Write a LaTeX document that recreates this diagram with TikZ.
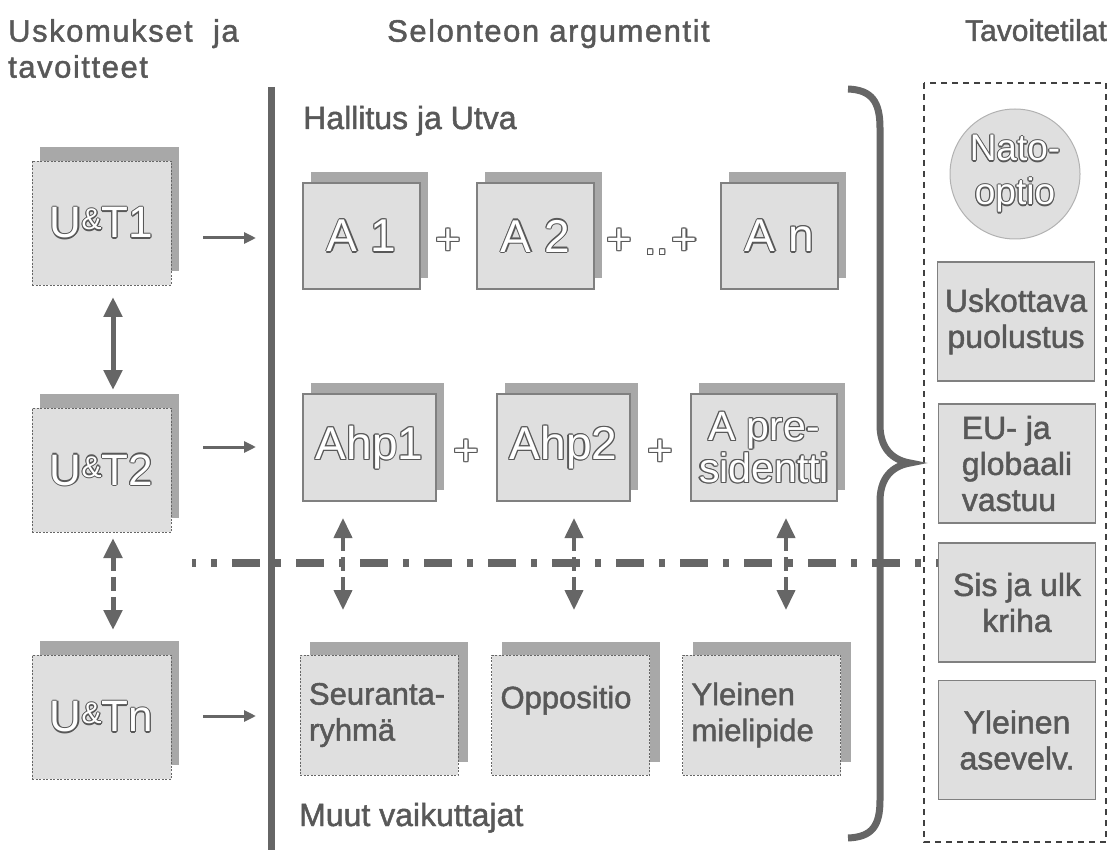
\documentclass[tikz,border=0pt]{standalone}
\usepackage{fontspec}
\setmainfont{Liberation Sans}
\newfontfamily\plainfont{Liberation Sans}[FakeBold=1.5]
\usetikzlibrary{arrows.meta, shadows}

\definecolor{linegray}{HTML}{666666}
\definecolor{textgray}{HTML}{585858}
\definecolor{boxfill}{HTML}{DFDFDF}
\definecolor{shadowgray}{HTML}{A8A8A8}
\definecolor{edgegray}{HTML}{808080}

\newcommand\hollow[1]{{\setbox0\hbox{#1}%
  \color{textgray}%
  \rlap{\kern1.2pt\copy0}\rlap{\kern-1.2pt\copy0}%
  \rlap{\raise1.2pt\copy0}\rlap{\lower1.2pt\copy0}%
  \rlap{\kern.85pt\raise.85pt\copy0}\rlap{\kern-.85pt\raise.85pt\copy0}%
  \rlap{\kern.85pt\lower.85pt\copy0}\rlap{\kern-.85pt\lower.85pt\copy0}%
  \color{white}\copy0}}

\begin{document}
\begin{tikzpicture}
[x=1pt, y=-1pt, title/.style={anchor=north west, inner sep=0pt, text=textgray, align=left, font=\plainfont\fontsize{31}{36}\selectfont\addfontfeature{LetterSpace=5}}, label/.style={anchor=base west, inner sep=0pt, text=textgray, font=\plainfont\fontsize{32}{36}\selectfont}, utbox/.style={fill=boxfill, draw=black!60, line width=0.9pt, dash pattern=on 2pt off 1.5pt, minimum width=139pt, minimum height=124pt, inner sep=0pt, general shadow={fill=shadowgray, shadow xshift=8pt, shadow yshift=14pt}, font=\fontsize{44}{50}\selectfont}, argbox/.style={fill=boxfill, draw=edgegray, line width=1.5pt, minimum height=107pt, inner sep=0pt, general shadow={fill=shadowgray, shadow xshift=8pt, shadow yshift=11pt}, font=\fontsize{46}{50}\selectfont}, otherbox/.style={fill=boxfill, draw=black!60, line width=0.9pt, dash pattern=on 2pt off 1.5pt, minimum height=120pt, text width=140pt, inner xsep=9pt, inner ysep=0pt, align=left, text=textgray, font=\plainfont\fontsize{31}{36}\selectfont, general shadow={fill=shadowgray, shadow xshift=10pt, shadow yshift=13pt}}, goalbox/.style={fill=boxfill, draw=edgegray, line width=1.3pt, minimum width=157pt, minimum height=119pt, inner sep=0pt, text=textgray, font=\plainfont\fontsize{32}{36}\selectfont}, plus/.style={inner sep=0pt, font=\fontsize{44}{50}\selectfont}, into/.style={-{Triangle[length=12pt, width=11pt]}, line width=3pt, linegray}, both ways/.style={{Triangle[length=20pt, width=18pt]}-{Triangle[length=20pt, width=18pt]}, line width=5pt, linegray}, both ways dashed/.style={both ways, dash pattern=on 14pt off 6pt}]
\useasboundingbox (0,0) rectangle (1111,850);
    \coordinate (r1) at (203,238);
    \coordinate (r1') at (256,238);
    \coordinate (r2) at (203,447);
    \coordinate (r2') at (256,447);
    \coordinate (r3) at (203,716);
    \coordinate (r3') at (256,716);
    \coordinate (v1) at (113,297);
    \coordinate (v1') at (113,390);
    \coordinate (v2) at (113,538);
    \coordinate (v2') at (113,630);
    \coordinate (d1) at (343,518);
    \coordinate (d1') at (343,610);
    \coordinate (d2) at (574,518);
    \coordinate (d2') at (574,610);
    \coordinate (d3) at (786,518);
    \coordinate (d3') at (786,610);
    \node[title] (uskomukset) at (8,19) {Uskomukset\ \ ja\\tavoitteet};
    \node[title] (selonteon) at (387,19) {Selonteon argumentit};
    \node[title, anchor=north east, font=\plainfont\fontsize{30}{36}\selectfont] (tavoitetilat) at (1107,19) {Tavoitetilat};
    \draw[linegray, line width=7pt] (271,87) -- (271,850);
    \draw[linegray, line width=8pt, dash pattern=on 28pt off 15pt on 6pt off 15pt, dash phase=24pt] (192,563) -- (940,563);
    \draw[black!75, line width=1.8pt, dash pattern=on 6pt off 5pt] (924,83) rectangle (1106,842);
    \node[label] (hallitus) at (303,129) {Hallitus ja Utva};
    \node[label] (muut) at (299,826) {Muut vaikuttajat};
    \node[utbox] (ut1) at (101.5,223) {\hollow{U\raisebox{8pt}{\fontsize{30}{30}\selectfont\&}T1}};
    \node[utbox] (ut2) at (101.5,470) {\hollow{U\raisebox{8pt}{\fontsize{30}{30}\selectfont\&}T2}};
    \node[utbox] (utn) at (101.5,717) {\hollow{U\raisebox{8pt}{\fontsize{30}{30}\selectfont\&}Tn}};
    \node[argbox, minimum width=117pt, minimum height=106pt] (a1) at (361.5,236) {\hollow{A 1}};
    \node[argbox, minimum width=117pt, minimum height=106pt] (a2) at (535.5,236) {\hollow{A 2}};
    \node[argbox, minimum width=117pt, minimum height=106pt] (an) at (779.5,236) {\hollow{A n}};
    \node[plus] (plus1) at (448.5,242) {\hollow{+}};
    \node[plus] (plus2) at (652,242) {\hollow{+ ..\kern3pt+}};
    \node[argbox, minimum width=133pt] (ahp1) at (369.5,447.5) {\hollow{Ahp1}};
    \node[argbox, minimum width=133pt] (ahp2) at (563.5,447.5) {\hollow{Ahp2}};
    \node[argbox, minimum width=146pt, align=center, font=\fontsize{41}{40}\selectfont] (apres) at (764,447.5) {\hollow{A pre-}\\\hollow{sidentti}};
    \node[plus] (plus3) at (466.5,453) {\hollow{+}};
    \node[plus] (plus4) at (660.5,453) {\hollow{+}};
    \node[otherbox] (seuranta) at (379,715) {Seuranta-\\ryhmä};
    \node[otherbox] (oppositio) at (570.5,715) {Oppositio\\~};
    \node[otherbox] (mielipide) at (761.5,715) {Yleinen\\mielipide};
    \node[circle, minimum size=130pt, inner sep=0pt, fill=boxfill, draw=black!30, line width=1pt, align=center, font=\fontsize{37}{44}\selectfont] (nato) at (1015,174) {\hollow{Nato-}\\\hollow{optio}};
    \node[goalbox, align=center] (uskottava) at (1016,321.5) {Uskottava\\puolustus};
    \node[goalbox, align=left] (vastuu) at (1017,463.5) {EU- ja\\globaali\\vastuu};
    \node[goalbox, align=center] (kriha) at (1017,602.5) {Sis ja ulk\\kriha};
    \node[goalbox, align=center] (asevelv) at (1017,740) {Yleinen\\asevelv.};
    \draw[linegray, line width=7pt] (848,89) .. controls (872,90) and (880,102) .. (880,128) -- (880,425) .. controls (880,448) and (892,460) .. (910,463) .. controls (892,466) and (880,478) .. (880,501) -- (880,800) .. controls (880,826) and (872,837) .. (848,838);
    \draw[into] (r1) -- (r1');
    \draw[into] (r2) -- (r2');
    \draw[into] (r3) -- (r3');
    \draw[both ways] (v1) -- (v1');
    \draw[both ways dashed] (v2) -- (v2');
    \draw[both ways dashed, line width=4pt] (d1) -- (d1');
    \draw[both ways dashed, line width=4pt] (d2) -- (d2');
    \draw[both ways dashed, line width=4pt] (d3) -- (d3');
\end{tikzpicture}
\end{document}
